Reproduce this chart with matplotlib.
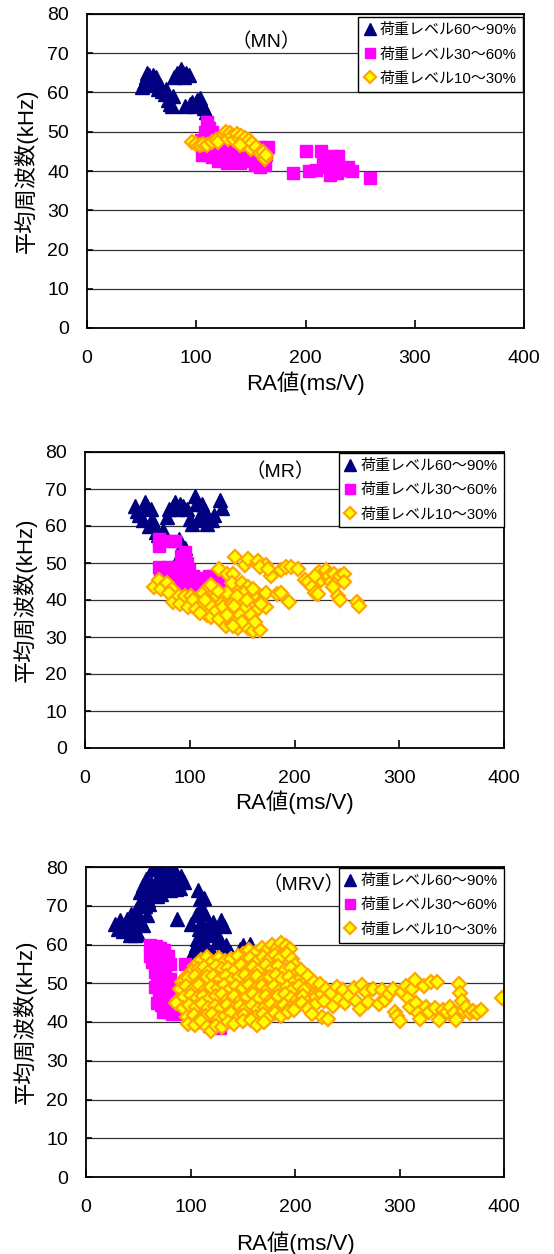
import matplotlib
matplotlib.use('Agg')
import matplotlib.pyplot as plt

plt.rcParams['font.family'] = ['Liberation Sans', 'Noto Sans CJK JP']

# Texts
labels = ['荷重レベル60～90%', '荷重レベル30～60%', '荷重レベル10～30%']
xlabel = 'RA値(ms/V)'
ylabel = '平均周波数(kHz)'
titles = ['（MN）', '（MR）', '（MRV）']
xticks = [0, 100, 200, 300, 400]
yticks = [0, 10, 20, 30, 40, 50, 60, 70, 80]

# ---- MN ----
mn_tri_x = [50, 52, 54, 55, 57, 59, 60, 62, 63, 65, 67, 69, 71, 72, 74, 76, 78, 79, 80, 82,
            84, 86, 88, 89, 91, 93, 90, 94, 96, 99, 101, 103, 105, 107, 109, 111]
mn_tri_y = [61.5, 62.5, 64, 65, 64.5, 63, 64.5, 62, 64, 61, 62, 60.5, 59.5, 61, 58, 57, 56.5, 59, 64, 65,
            64.5, 66, 65, 64, 65, 64.5, 56.5, 57, 57.5, 56.5, 58, 58.5, 57, 56, 55, 53.5]
mn_sq_x = [104, 106, 105, 108, 110, 112, 114, 116, 118, 120, 122, 124, 126, 128, 130, 132, 134, 136,
           138, 140, 142, 144, 146, 148, 150, 152, 154, 156, 158, 160, 162, 164, 166, 158, 163,
           112, 110, 114, 116, 108, 119, 126, 140,
           189, 200, 214, 203, 210, 218, 221, 224, 227, 230, 222, 229, 234, 239, 243, 259, 216, 226]
mn_sq_y = [48, 46, 44, 45, 47, 44, 43.5, 46, 44, 42.5, 45, 43, 44.5, 42, 43.5, 45, 42.5, 44,
           43, 42, 44, 43.5, 45, 42.5, 44, 43, 41.5, 44, 46, 45, 42.5, 44, 46, 41, 41.5,
           51, 52.5, 50, 49, 50, 47.5, 46, 46,
           39.4, 45, 45, 40, 40.3, 41.1, 43.3, 43.7, 42.8, 43.7, 39, 39.4, 40.3, 41.1, 39.9, 38.2, 42, 40.7]
mn_dia_x = [96, 100, 103, 106, 110, 114, 118, 120, 125, 127, 129, 131, 133, 135, 137, 139, 141, 143,
            145, 148, 150, 151, 155, 158, 161, 163, 164, 140]
mn_dia_y = [47.3, 46.8, 46.5, 47.0, 46.6, 47.5, 47.8, 47.5, 49.3, 50.0, 48.2, 49.6, 48.8, 48.0, 49.5, 48.5, 49.0, 47.0,
            48.3, 48.0, 45.5, 47.2, 46.0, 44.7, 44.9, 43.0, 44.2, 46.5]

# ---- MR ----
mr_tri_x = [48, 50, 52, 55, 57, 59, 61, 63, 64, 66, 68, 70, 72, 74, 78, 80, 84, 86, 88, 91,
            94, 97, 100, 102, 105, 106, 108, 110, 112, 115, 116, 118, 121, 123, 129, 131, 90, 93, 95, 91]
mr_tri_y = [65.5, 64, 63, 61.5, 66.5, 65.5, 60, 64.5, 62, 60.5, 58.5, 57.5, 56.5, 59, 62.5, 64.5, 65.5, 66.5, 64.5, 66,
            65.5, 64.5, 62, 60.5, 68, 66, 61.5, 63, 66, 64, 60.5, 62, 61.5, 63, 67, 65, 56.5, 55, 54, 52.5]
mr_sq_x = [71, 71, 82, 86, 92, 95, 93, 97, 71, 75, 79, 83, 87, 91, 95, 99, 103, 72, 76, 80,
           84, 88, 92, 96, 100, 104, 74, 85, 95, 102, 110, 114, 118, 122, 126, 130, 133, 135, 124, 128,
           116, 112, 106, 108, 106, 103, 100, 97]
mr_sq_y = [54.5, 56.5, 56, 56, 52, 53, 49.5, 50, 49, 48.5, 49, 48.5, 49, 48.5, 49, 48, 46.5, 46, 46, 45.5,
           46, 45.5, 46, 45, 45.5, 45, 44.5, 44, 43.5, 44, 45, 46, 46.5, 46.5, 46, 45.5, 44, 42.5, 43.5, 42.5,
           43.5, 43, 42, 40, 38.5, 44, 44, 45.5]
mr_dia_x = [66, 71, 73, 78, 83, 80, 84, 90, 91, 95, 98, 101, 103, 108, 111, 116, 120, 113, 118, 123,
            126, 128, 133, 131, 135, 138, 140, 143, 146, 150, 153, 156, 160, 167, 165, 167, 173, 136, 141, 143,
            153, 156, 165, 173, 178, 173, 183, 187, 187, 192, 197, 203, 195, 167, 175, 146, 140, 150, 153, 156,
            160, 136, 130, 120, 106, 110,
            210, 213, 217, 220, 222, 223, 225, 228, 230, 233, 235, 238, 240, 243, 247, 247, 242, 243, 260, 262,
            220, 237,
            125, 128, 132, 136, 140, 144, 148, 150, 152, 158, 162, 145, 141, 127, 120, 115, 142, 155, 160, 168]
mr_dia_y = [43.5, 45.5, 43, 44.5, 43, 42, 39.5, 41, 39, 41, 38, 41, 40, 37, 38, 36, 35.5, 42, 43.5, 42,
            41, 48.5, 41, 34.5, 33, 34.5, 33.5, 36.5, 32.5, 40, 38, 32.5, 31.5, 32, 37.5, 41, 38, 47, 47, 51.5,
            49.5, 51, 50.5, 49.5, 46.5, 42, 41.5, 42, 48, 49, 49, 48.5, 39.5, 49, 48.5, 43, 44.5, 44.5, 42, 43.5,
            41, 42, 39, 38.5, 37.5, 36.5,
            45.5, 45, 43.5, 42, 41.5, 47.5, 45.5, 47, 48, 46.5, 45, 47, 44.5, 46.5, 47, 45, 41, 40, 39.5, 38.5,
            46.5, 43.5,
            37, 35, 38, 36, 39, 34, 36, 34, 42, 36, 34, 41, 33, 42.5, 44, 40, 38.5, 40, 43, 39]

# ---- MRV ----
mrv_tri_x = [28, 31, 33, 37, 39, 43, 45, 48, 50, 52, 55, 58, 52, 55, 57, 59, 63, 64, 67, 70,
             73, 76, 78, 81, 84, 86, 88, 91, 94, 75, 52, 87, 107, 109, 110, 105, 100, 110, 117, 119,
             112, 105, 102, 115, 122, 129, 132, 124, 129, 134, 132, 119, 100, 150, 157, 147, 160, 136, 146,
             60, 62, 66, 70, 72, 80, 83, 90, 68, 56, 60, 45, 48, 40, 35, 42, 47, 113, 114, 108,
             113, 106, 125, 121, 110, 104, 138, 142, 126]
mrv_tri_y = [65.4, 64.1, 66.2, 64.5, 66.7, 68, 63.2, 68.8, 62.8, 66.2, 65, 67.5, 73.5, 75.3, 77, 71.4, 79.6, 72.7, 79.5, 77.8,
             79.5, 77, 78.7, 76.6, 79.5, 74.4, 75.3, 77.8, 76.1, 74.8, 71, 66.7, 74, 71.8, 69.7, 67.5, 65.4, 65.8, 64.9, 62.4,
             61.5, 59.8, 58.1, 58.9, 65.8, 66.2, 64.9, 63.2, 60.6, 59.8, 57.2, 55.5, 55.9, 59.8, 60.2, 58.9, 57.6, 56.8, 57.6,
             74, 76, 76, 75.5, 73, 74, 77, 74.5, 72.5, 70, 70.5, 67, 66, 65, 63.5, 62.5, 62.5, 72, 68, 64,
             63, 61.5, 61, 58, 58.5, 56.5, 58, 56.5, 57]
mrv_sq_x = [63, 67, 71, 75, 78, 65, 63, 67, 71, 75, 80, 68, 72, 76, 80, 70, 74, 78, 82, 86,
            68, 72, 76, 80, 84, 88, 90, 86, 95, 100, 105, 110, 115, 120, 125, 118, 128, 108, 140, 150,
            165, 175, 160,
            61, 61, 73, 77, 66, 70, 74, 66, 70, 78, 82, 84, 88, 92, 74, 78, 82]
mrv_sq_y = [59, 59.5, 59, 58.5, 57, 57.5, 55.5, 56, 55, 54.5, 55, 51, 51.5, 52, 51, 48, 47.5, 48.5, 49, 47,
            45, 44.5, 45.5, 44, 44, 45, 42, 42.5, 55, 53, 50, 48, 45, 43, 40, 39, 38.5, 40, 46, 44,
            45, 43, 48,
            57, 60, 57, 55, 53, 53, 53, 49, 51, 46, 46, 47.5, 48, 44, 42.5, 42.5, 42]
mrv_dia_x = [150, 156, 162, 168, 173, 178, 183, 187, 191, 195,
             104, 110, 116, 121, 127, 133, 139, 145, 151, 157, 163, 169, 175, 181, 186, 192, 197, 200,
             96, 101, 107, 113, 118, 124, 130, 136, 142, 148, 154, 160, 166, 172, 178, 184, 190, 196, 202,
             92, 98, 104, 110, 116, 122, 128, 134, 140, 146, 152, 158, 164, 170, 176, 182, 188, 194, 200, 206, 211,
             90, 96, 102, 108, 114, 120, 126, 132, 138, 144, 150, 156, 162, 168, 174, 180, 186, 192, 198, 204, 210, 216, 222,
             88, 94, 100, 106, 112, 118, 124, 130, 136, 142, 148, 154, 160, 166, 172, 178, 184, 190, 196, 202, 208, 214, 220, 226,
             86, 93, 99, 105, 111, 117, 123, 129, 135, 141, 147, 153, 159, 165, 171, 177, 183, 189, 195, 201, 207, 213, 219,
             97, 103, 109, 115, 121, 127, 133, 139, 145, 151, 157, 163, 169, 175, 181, 187, 193, 199,
             98, 104, 110, 116, 120, 124, 130, 136, 142, 150, 158, 164, 170,
             206, 212, 218, 224, 230, 228, 234, 236, 240, 242, 246, 248, 252, 256, 258, 262, 264, 268, 270, 275,
             280, 283, 286, 290, 294, 296, 298, 300, 302, 306, 308, 310, 312, 315, 316, 318, 320, 323, 325, 328,
             330, 334, 336, 338, 342, 345, 348, 352, 354, 357, 358, 360, 362, 364, 367, 370, 374, 378, 398, 226,
             212, 232, 216]
mrv_dia_y = [57.5, 58.5, 57.8, 59.2, 58.6, 59.8, 59.0, 60.3, 59.6, 58.8,
             54.5, 56, 56.8, 55.6, 56.5, 55.8, 56.3, 57, 55.8, 56.6, 55.4, 56.8, 56.2, 57.4, 56.5, 57.6, 56.2, 54.8,
             51.5, 53.2, 53.8, 54.2, 53.1, 54.5, 53.6, 54, 53.2, 54.6, 53.5, 54.2, 53.3, 54.7, 53.8, 54.4, 53.5, 54, 52.6,
             50.2, 51.4, 51.8, 50.9, 51.6, 52, 51.1, 51.8, 50.8, 51.5, 52.2, 51.2, 51.9, 50.8, 51.6, 52.1, 51, 51.7, 50.6, 51.4, 50.2,
             48.5, 49.2, 48.6, 49.5, 48.3, 49, 48.8, 49.6, 48.4, 49.2, 48.7, 49.5, 48.5, 49.3, 48.6, 49.4, 48.2, 49, 48.4, 49.2, 48.6, 49.8, 48.2,
             45.8, 46.4, 47, 46.2, 46.8, 45.9, 46.6, 47.1, 46, 46.7, 45.8, 46.5, 47.2, 46.1, 46.8, 45.9, 46.6, 47.3, 46.2, 45.6, 46.8, 45.8, 46.5, 47.2,
             44.8, 43.6, 44.3, 43.8, 44.6, 43.5, 44.2, 43.7, 44.5, 43.4, 44.1, 43.6, 44.4, 43.3, 44, 44.6, 43.7, 44.3, 43.5, 44.2, 44.8, 43.8, 44.5,
             41.2, 41.8, 40.9, 41.5, 42.1, 41, 41.6, 42.2, 41.1, 41.7, 40.8, 41.4, 42, 41.2, 42.3, 41.6, 42.5, 43,
             39.6, 39.2, 40.2, 38.6, 37.6, 39, 38.8, 40, 39.5, 40.2, 40.4, 39.2, 40.1,
             53.5, 51.8, 50.4, 49.8, 48.5, 45.5, 47.4, 44.2, 49, 46, 48.2, 44.8, 46.6, 48.8, 45.3, 43.4, 49.6, 47.8, 45.2, 48.6,
             44.6, 48.2, 45.8, 47.2, 48.6, 42.6, 41.5, 40.2, 47.8, 49.4, 46.2, 43.9, 48.5, 50.8, 44.8, 42.2, 40.8, 49.3, 43.8, 42.5,
             50.2, 43.5, 50.4, 40.4, 43.2, 42.6, 43.8, 42.2, 40.6, 49.8, 47.5, 45.4, 42.8, 43.8, 42.4, 42.8, 42.2, 43, 46.2, 41.3,
             43.4, 40.8, 42]

panels = [
    (mn_tri_x, mn_tri_y, mn_sq_x, mn_sq_y, mn_dia_x, mn_dia_y),
    (mr_tri_x, mr_tri_y, mr_sq_x, mr_sq_y, mr_dia_x, mr_dia_y),
    (mrv_tri_x, mrv_tri_y, mrv_sq_x, mrv_sq_y, mrv_dia_x, mrv_dia_y),
]

W, H = 554, 1254
fig = plt.figure(figsize=(W / 100, H / 100), dpi=100)

# axes boxes in pixels: left, top, right, bottom
boxes = [(87, 14, 524, 328), (85, 452, 504, 748), (86, 867, 504, 1177)]
title_pos = [(0.41, 0.911), (0.465, 0.932), (0.52, 0.942)]
xlabel_y = [-0.175, -0.182, -0.213]
ylabel_x = [-0.140, -0.143, -0.146]
leg_anchor = [(0.998, 0.99), (1.0, 0.997), (1.0, 0.997)]

for i, (tx, ty, sx, sy, dx, dy) in enumerate(panels):
    l, t, r, b = boxes[i]
    ax = fig.add_axes([l / W, 1 - b / H, (r - l) / W, (b - t) / H])

    ax.plot(tx, ty, ls='none', marker='^', ms=9.5, color='#000080', label=labels[0])
    ax.plot(sx, sy, ls='none', marker='s', ms=8.5, color='#FF00FF', label=labels[1])
    ax.plot(dx, dy, ls='none', marker='D', ms=7, mfc='#FFFF00', mec='#FFA500', mew=1.6,
            label=labels[2])

    ax.set_xlim(0, 400)
    ax.set_ylim(0, 80)
    ax.set_xticks(xticks)
    ax.set_yticks(yticks)
    ax.grid(axis='y', color='#333333', lw=0.9)
    ax.set_axisbelow(True)
    ax.tick_params(axis='x', direction='in', length=6, width=1.2, pad=16, labelsize=14)
    ax.tick_params(axis='y', direction='in', length=4, width=1.2, pad=13, labelsize=14)
    for sp in ax.spines.values():
        sp.set_linewidth(1.3)
        sp.set_color('black')

    ax.set_xlabel(xlabel, fontsize=16, va='center')
    ax.xaxis.set_label_coords(0.5, xlabel_y[i])
    ax.set_ylabel(ylabel, fontsize=16, va='center')
    ax.yaxis.set_label_coords(ylabel_x[i], 0.5)

    ax.text(title_pos[i][0], title_pos[i][1], titles[i], transform=ax.transAxes,
            ha='center', va='center', fontsize=14)

    leg = ax.legend(loc='upper right', bbox_to_anchor=leg_anchor[i], borderaxespad=0,
                    fontsize=10.8, frameon=True, fancybox=False, framealpha=1,
                    edgecolor='black', handlelength=0.7, handletextpad=0.35,
                    borderpad=0.4, labelspacing=0.68, markerscale=0.85)
    leg.get_frame().set_linewidth(1.0)

fig.savefig('out.png', dpi=100)
